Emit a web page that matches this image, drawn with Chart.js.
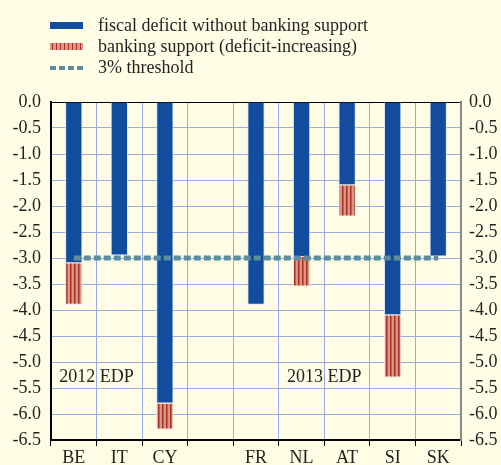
<!DOCTYPE html>
<html>
<head>
<meta charset="utf-8">
<script src="https://cdn.jsdelivr.net/npm/chart.js@4.4.1/dist/chart.umd.min.js"></script>
<style>
  html, body { margin: 0; padding: 0; background: #fffde6; }
  #wrap { position: relative; width: 501px; height: 465px; }
  #legend { position: absolute; left: 50px; top: 15px; font-family: "Liberation Serif", serif; font-size: 18px; color: #231f20; }
  .row { display: flex; align-items: center; height: 21px; }
  .sw { width: 33px; height: 7px; margin-right: 15px; }
  .sw.blue { background: #124c9e; }
  .sw.red { background: repeating-linear-gradient(90deg, #d9987f 0 2px, #a4302a 2px 3.5px, #d9987f 3.5px 4px); }
  .sw.dash { height: 4px; background: repeating-linear-gradient(90deg, #5a8e9e 0 6px, transparent 6px 9px); }
</style>
</head>
<body>
<div id="wrap">
  <canvas id="c" width="501" height="465"></canvas>
  <div id="legend">
    <div class="row"><div class="sw blue"></div>fiscal deficit without banking support</div>
    <div class="row"><div class="sw red"></div>banking support (deficit-increasing)</div>
    <div class="row"><div class="sw dash"></div>3% threshold</div>
  </div>
</div>
<script>
const countries = ['BE', 'IT', 'CY', '', 'FR', 'NL', 'AT', 'SI', 'SK'];
const fiscalDeficit = [-3.1, -2.95, -5.8, null, -3.9, -2.98, -1.6, -4.1, -2.97];
const bankingSupport = [-0.8, null, -0.5, null, null, -0.57, -0.6, -1.2, null];
const threshold = [-3, -3, -3, -3, -3, -3, -3, -3, -3];
const yTicks = { min: -6.5, max: 0, step: 0.5 };
const notes = [
  { text: '2012 EDP', at: 0.5, y: -5.3 },
  { text: '2013 EDP', at: 5.5, y: -5.3 }
];

function stripes() {
  const c = document.createElement('canvas');
  c.width = 4; c.height = 4;
  const g = c.getContext('2d');
  g.fillStyle = '#d9987f';
  g.fillRect(0, 0, 4, 4);
  g.fillStyle = '#a4302a';
  g.fillRect(2, 0, 1.5, 4);
  return g.createPattern(c, 'repeat');
}

const serif = { family: '"Liberation Serif", serif', size: 18 };

const notePlugin = {
  id: 'notes',
  afterDatasetsDraw(chart) {
    const ctx = chart.ctx;
    ctx.save();
    ctx.font = '18px "Liberation Serif", serif';
    ctx.fillStyle = '#231f20';
    ctx.textAlign = 'center';
    ctx.textBaseline = 'middle';
    notes.forEach(n => {
      ctx.fillText(n.text, chart.scales.x.getPixelForValue(n.at), chart.scales.y.getPixelForValue(n.y));
    });
    ctx.restore();
  }
};

const tickLabel = v => Number(v).toFixed(1);

new Chart(document.getElementById('c'), {
  data: {
    labels: countries,
    datasets: [
      {
        type: 'line',
        label: '3% threshold',
        data: threshold,
        borderColor: '#5a8e9e',
        borderWidth: 5,
        borderDash: [7, 3],
        pointRadius: 0,
        fill: false,
        stack: 'line',
        order: 0
      },
      {
        type: 'bar',
        label: 'fiscal deficit without banking support',
        data: fiscalDeficit,
        backgroundColor: '#124c9e',
        borderColor: '#dfe6f6',
        borderWidth: 1,
        stack: 's',
        order: 1
      },
      {
        type: 'bar',
        label: 'banking support (deficit-increasing)',
        data: bankingSupport,
        backgroundColor: stripes(),
        borderColor: '#f7e2d8',
        borderWidth: 1,
        stack: 's',
        order: 1
      }
    ]
  },
  options: {
    responsive: false,
    animation: false,
    layout: { padding: { top: 102 } },
    datasets: { bar: { categoryPercentage: 1, barPercentage: 0.38 } },
    plugins: { legend: { display: false }, tooltip: { enabled: false } },
    scales: {
      x: {
        stacked: true,
        offset: true,
        grid: { offset: true, color: '#9aa8e6', tickColor: '#000', tickLength: 6 },
        border: { color: '#000', width: 2 },
        ticks: { font: serif, color: '#231f20', padding: 1, maxRotation: 0 },
        afterFit(s) { s.height = 25; }
      },
      y: {
        stacked: true,
        min: yTicks.min, max: yTicks.max,
        position: 'left',
        grid: { color: ctx => ctx.tick && ctx.tick.value === 0 ? '#000' : '#9aa8e6', drawTicks: false },
        border: { color: '#000', width: 2 },
        ticks: { stepSize: yTicks.step, font: serif, color: '#231f20', padding: 10, callback: tickLabel },
        afterFit(s) { s.width = 51; }
      },
      y2: {
        min: yTicks.min, max: yTicks.max,
        position: 'right',
        grid: { display: false, drawTicks: false },
        border: { color: '#888', width: 2 },
        ticks: { stepSize: yTicks.step, font: serif, color: '#231f20', padding: 8, callback: tickLabel },
        afterFit(s) { s.width = 40; }
      }
    }
  },
  plugins: [notePlugin]
});
</script>
</body>
</html>
